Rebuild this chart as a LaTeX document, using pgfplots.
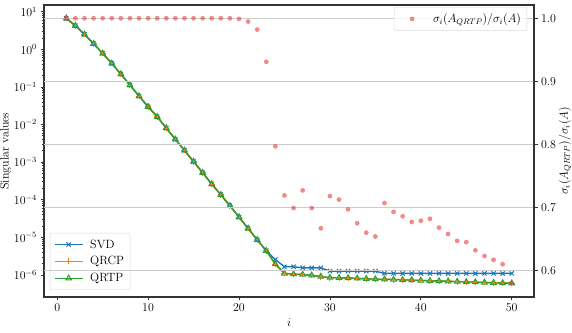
\documentclass[border=0pt]{standalone}
\usepackage{pgfplots}
\pgfplotsset{compat=1.18}
\definecolor{tabblue}{RGB}{31,119,180}
\definecolor{taborange}{RGB}{255,127,14}
\definecolor{tabgreen}{RGB}{44,160,44}
\definecolor{dotred}{RGB}{235,60,60}
\begin{document}
\begin{tikzpicture}[font=\fontsize{12}{14}\selectfont]
\pgfplotsset{every axis/.append style={
  width=490bp, height=292bp, scale only axis,
  xmin=-1.45, xmax=52.45,
  tick align=outside,
  major tick length=3.5bp, minor tick length=2bp,
  every tick/.style={black!80, line width=0.8bp},
  axis line style={black!80, line width=1.2bp},
  tick label style={font=\fontsize{12}{14}\selectfont},
  label style={font=\fontsize{12}{14}\selectfont},
  legend cell align=left,
  legend style={font=\fontsize{12}{14}\selectfont, rounded corners=2bp, draw=black!15, fill=white, fill opacity=0.8, text opacity=1, inner xsep=4bp, inner ysep=4.5bp, row sep=3bp,
    /tikz/every odd column/.append style={column sep=5bp}},
}}
\begin{axis}[name=ax1, ymode=log, ymin=2.6e-7, ymax=15.1,
  tick pos=left,
  xtick={0,10,20,30,40,50},
  ytick={1e-6,1e-5,1e-4,1e-3,1e-2,1e-1,1,10},
  ylabel={Singular values}, xlabel={$i$},
  ylabel style={yshift=-4bp},
  xlabel style={yshift=0bp},
  legend style={at={(0.012,0.024)}, anchor=south west},
  legend image code/.code={\path (0cm,0cm) -- (0.98cm,0cm); \draw[mark repeat=2,mark phase=2] plot coordinates {(0cm,0cm) (0.49cm,0cm) (0.98cm,0cm)};},
]
\addplot[tabblue, line width=1.4bp, mark=x, mark size=3bp, mark options={solid, line width=1bp}] coordinates {
(1,6.668)(2,4.256)(3,2.500)(4,1.413)(5,0.7816)(6,0.4236)(7,0.2203)(8,0.1125)(9,0.05728)(10,0.02979)
(11,0.01614)(12,8.07e-3)(13,4.04e-3)(14,2.056e-3)(15,1.038e-3)(16,5.24e-4)(17,2.62e-4)(18,1.36e-4)(19,6.93e-5)(20,3.47e-5)
(21,1.73e-5)(22,8.65e-6)(23,4.41e-6)(24,2.57e-6)(25,1.66e-6)(26,1.66e-6)(27,1.55e-6)(28,1.55e-6)(29,1.55e-6)(30,1.27e-6)
(31,1.27e-6)(32,1.27e-6)(33,1.27e-6)(34,1.27e-6)(35,1.27e-6)(36,1.10e-6)(37,1.10e-6)(38,1.10e-6)(39,1.10e-6)(40,1.10e-6)
(41,1.10e-6)(42,1.10e-6)(43,1.10e-6)(44,1.10e-6)(45,1.10e-6)(46,1.10e-6)(47,1.10e-6)(48,1.10e-6)(49,1.10e-6)(50,1.10e-6)};
\addlegendentry{SVD}
\addplot[taborange, line width=1.4bp, mark=+, mark size=3bp, mark options={solid, line width=1bp}] coordinates {
(1,6.668)(2,4.256)(3,2.500)(4,1.413)(5,0.7816)(6,0.4236)(7,0.2203)(8,0.1125)(9,0.05728)(10,0.02979)
(11,0.01614)(12,8.07e-3)(13,4.04e-3)(14,2.056e-3)(15,1.038e-3)(16,5.24e-4)(17,2.62e-4)(18,1.36e-4)(19,6.93e-5)(20,3.47e-5)
(21,1.73e-5)(22,8.65e-6)(23,4.41e-6)(24,1.95e-6)(25,1.10e-6)(26,1.057e-6)(27,1.035e-6)(28,9.77e-7)(29,9.12e-7)(30,8.51e-7)
(31,8.41e-7)(32,8.32e-7)(33,8.13e-7)(34,7.94e-7)(35,7.76e-7)(36,7.67e-7)(37,7.59e-7)(38,7.45e-7)(39,7.31e-7)(40,7.18e-7)
(41,7.05e-7)(42,6.92e-7)(43,6.81e-7)(44,6.68e-7)(45,6.56e-7)(46,6.46e-7)(47,6.34e-7)(48,6.24e-7)(49,6.14e-7)(50,6.03e-7)};
\addlegendentry{QRCP}
\addplot[tabgreen, line width=1.4bp, mark=triangle, mark size=3.2bp, mark options={solid, line width=1bp}] coordinates {
(1,6.668)(2,4.256)(3,2.500)(4,1.413)(5,0.7816)(6,0.4236)(7,0.2203)(8,0.1125)(9,0.05728)(10,0.02979)
(11,0.01614)(12,8.07e-3)(13,4.04e-3)(14,2.056e-3)(15,1.038e-3)(16,5.24e-4)(17,2.62e-4)(18,1.36e-4)(19,6.93e-5)(20,3.47e-5)
(21,1.73e-5)(22,8.65e-6)(23,4.41e-6)(24,1.95e-6)(25,1.10e-6)(26,1.057e-6)(27,1.035e-6)(28,9.77e-7)(29,9.12e-7)(30,8.51e-7)
(31,8.41e-7)(32,8.32e-7)(33,8.13e-7)(34,7.94e-7)(35,7.76e-7)(36,7.67e-7)(37,7.59e-7)(38,7.45e-7)(39,7.31e-7)(40,7.18e-7)
(41,7.05e-7)(42,6.92e-7)(43,6.81e-7)(44,6.68e-7)(45,6.56e-7)(46,6.46e-7)(47,6.34e-7)(48,6.24e-7)(49,6.14e-7)(50,6.03e-7)};
\addlegendentry{QRTP}
\end{axis}
\begin{axis}[axis y line*=right, axis x line=none, ymin=0.558, ymax=1.021,
  ytick={0.6,0.7,0.8,0.9,1.0},
  yticklabel style={/pgf/number format/fixed, /pgf/number format/fixed zerofill, /pgf/number format/precision=1},
  ymajorgrids, major grid style={black!20, line width=0.8bp},
  ylabel={$\sigma_i(A_{QRTP})/\sigma_i(A)$},
  ylabel style={yshift=4bp},
  legend style={at={(0.986,0.993)}, anchor=north east},
  legend image code/.code={\path (0cm,0cm) -- (0.98cm,0cm); \fill[dotred, fill opacity=0.6] (0.49cm,0cm) circle (2.4bp);},
]
\addplot[draw=none, only marks, mark=*, mark size=2.4bp, mark options={fill=dotred, draw opacity=0, fill opacity=0.6}] coordinates {
(1,1.0)(2,1.0)(3,1.0)(4,1.0)(5,1.0)(6,1.0)(7,1.0)(8,1.0)(9,1.0)(10,1.0)
(11,1.0)(12,1.0)(13,1.0)(14,1.0)(15,1.0)(16,1.0)(17,1.0)(18,1.0)(19,1.0)(20,0.999)
(21,0.9947)(22,0.982)(23,0.931)(24,0.797)(25,0.719)(26,0.699)(27,0.727)(28,0.699)(29,0.667)(30,0.718)
(31,0.7125)(32,0.697)(33,0.675)(34,0.660)(35,0.654)(36,0.707)(37,0.693)(38,0.686)(39,0.677)(40,0.679)
(41,0.682)(42,0.668)(43,0.658)(44,0.647)(45,0.645)(46,0.632)(47,0.623)(48,0.617)(49,0.610)(50,0.580)};
\addlegendentry{$\sigma_i(A_{QRTP})/\sigma_i(A)$}
\end{axis}
\pgfresetboundingbox
\path ([shift={(-44bp,-36bp)}]ax1.south west) rectangle ([shift={(38bp,5bp)}]ax1.north east);
\end{tikzpicture}
\end{document}
